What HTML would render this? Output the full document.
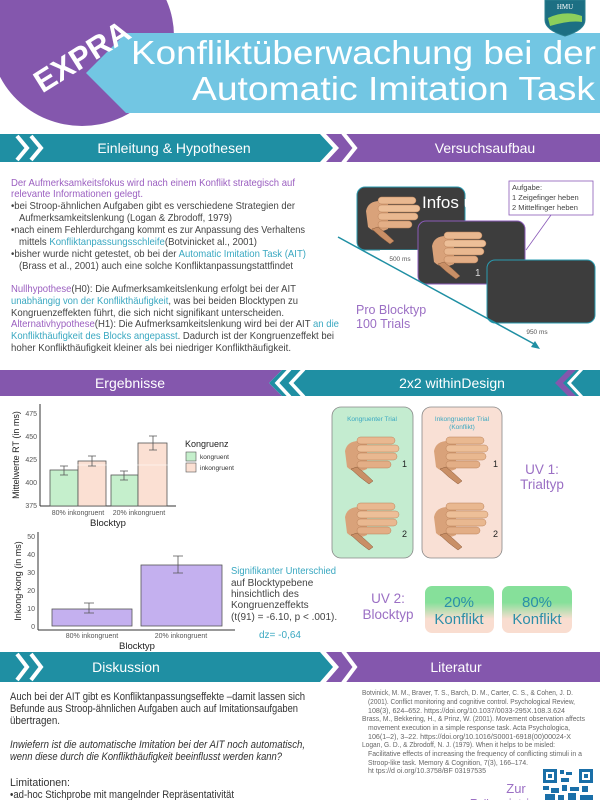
<!DOCTYPE html>
<html><head><meta charset="utf-8"><style>
html,body{margin:0;padding:0;background:#fff;}
svg{display:block;font-family:"Liberation Sans",sans-serif;}
</style></head><body>
<svg width="600" height="800" viewBox="0 0 600 800" xmlns="http://www.w3.org/2000/svg">
<defs>
<g id="hand">
<path d="M2,14 Q4,4 16,4 L24,6 L24,32 Q12,38 4,30 Z" fill="#d9a27a"/>
<rect x="14" y="0" width="38" height="7" rx="3.5" fill="#e9b890" stroke="#b98058" stroke-width="0.5"/>
<rect x="14" y="8" width="42" height="7" rx="3.5" fill="#edbf98" stroke="#b98058" stroke-width="0.5"/>
<rect x="14" y="16" width="40" height="7" rx="3.5" fill="#e9b890" stroke="#b98058" stroke-width="0.5"/>
<rect x="14" y="24" width="34" height="7" rx="3.5" fill="#e3ae86" stroke="#b98058" stroke-width="0.5"/>
<path d="M14,30 Q22,36 30,44 L26,47 Q16,40 8,32 Z" fill="#c98f66" stroke="#8a5a3a" stroke-width="0.5"/>
</g>
<linearGradient id="gp" x1="0" y1="0" x2="0" y2="1">
<stop offset="0.35" stop-color="#86e09a"/><stop offset="0.7" stop-color="#f9ddd0"/></linearGradient>
</defs>

<!-- header -->
<ellipse cx="82" cy="36" rx="92" ry="90" fill="#8457ad"/>
<polygon points="126,33 600,33 600,113 126,113 86,73" fill="#72c6e3"/>
<text x="78" y="68" fill="#fff" font-size="31" font-weight="bold" transform="rotate(-32 78 50)" text-anchor="middle">EXPRA</text>
<text x="131" y="64" fill="#fff" font-size="33" textLength="465" lengthAdjust="spacingAndGlyphs">Konfliktüberwachung bei der</text>
<text x="192" y="100" fill="#fff" font-size="33" textLength="403" lengthAdjust="spacingAndGlyphs">Automatic Imitation Task</text>
<path d="M545,0 L585,0 L585,20 Q585,30 565,36 Q545,30 545,20 Z" fill="#1c6f83" stroke="#2a7f8f" stroke-width="1"/>
<path d="M548,18 Q565,10 582,16 L582,22 Q570,20 550,26 Z" fill="#8ccf5c"/>
<text x="565" y="9" fill="#fff" font-size="7" text-anchor="middle" font-family="Liberation Serif">HMU</text>

<!-- row1 bars -->
<polygon points="0,134 320,134 333,148 320,162 0,162" fill="#1f8fa3"/>
<polyline points="17,136 27,148 17,160" fill="none" stroke="#fff" stroke-width="4"/>
<polyline points="31,136 41,148 31,160" fill="none" stroke="#fff" stroke-width="4"/>
<polygon points="326,134 600,134 600,162 326,162 339,148" fill="#8457ad"/>
<polyline points="343,133 355,148 343,163" fill="none" stroke="#fff" stroke-width="4"/>
<text x="174" y="153" fill="#fff" font-size="14" text-anchor="middle">Einleitung &amp; Hypothesen</text>
<text x="485" y="153" fill="#fff" font-size="14" text-anchor="middle">Versuchsaufbau</text>

<!-- intro text -->
<g font-size="10.5" fill="#444">
<text x="11" y="186" fill="#9b5fc0" textLength="284" lengthAdjust="spacingAndGlyphs">Der Aufmerksamkeitsfokus wird nach einem Konflikt strategisch auf</text>
<text x="11" y="197" fill="#9b5fc0" textLength="132" lengthAdjust="spacingAndGlyphs">relevante Informationen gelegt.</text>
<text x="11" y="209" textLength="284" lengthAdjust="spacingAndGlyphs">•bei Stroop-ähnlichen Aufgaben gibt es verschiedene Strategien der</text>
<text x="19" y="221" textLength="213" lengthAdjust="spacingAndGlyphs">Aufmerksamkeitslenkung (Logan &amp; Zbrodoff, 1979)</text>
<text x="11" y="233" textLength="294" lengthAdjust="spacingAndGlyphs">•nach einem Fehlerdurchgang kommt es zur Anpassung des Verhaltens</text>
<text x="19" y="245" textLength="238" lengthAdjust="spacingAndGlyphs">mittels <tspan fill="#3aa8c1">Konfliktanpassungsschleife</tspan>(Botvinicket al., 2001)</text>
<text x="11" y="257" textLength="295" lengthAdjust="spacingAndGlyphs">•bisher wurde nicht getestet, ob bei der <tspan fill="#3aa8c1">Automatic Imitation Task (AIT)</tspan></text>
<text x="19" y="269" textLength="274" lengthAdjust="spacingAndGlyphs">(Brass et al., 2001) auch eine solche Konfliktanpassungstattfindet</text>
<text x="11" y="292" textLength="285" lengthAdjust="spacingAndGlyphs"><tspan fill="#9b5fc0">Nullhypothese</tspan>(H0): Die Aufmerksamkeitslenkung erfolgt bei der AIT</text>
<text x="11" y="304" textLength="287" lengthAdjust="spacingAndGlyphs"><tspan fill="#3aa8c1">unabhängig von der Konflikthäufigkeit</tspan>, was bei beiden Blocktypen zu</text>
<text x="11" y="316" textLength="273" lengthAdjust="spacingAndGlyphs">Kongruenzeffekten führt, die sich nicht signifikant unterscheiden.</text>
<text x="11" y="327" textLength="328" lengthAdjust="spacingAndGlyphs"><tspan fill="#9b5fc0">Alternativhypothese</tspan>(H1): Die Aufmerksamkeitslenkung wird bei der AIT <tspan fill="#3aa8c1">an die</tspan></text>
<text x="11" y="339" textLength="323" lengthAdjust="spacingAndGlyphs"><tspan fill="#3aa8c1">Konflikthäufigkeit des Blocks angepasst</tspan>. Dadurch ist der Kongruenzeffekt bei</text>
<text x="11" y="351" textLength="280" lengthAdjust="spacingAndGlyphs">hoher Konflikthäufigkeit kleiner als bei niedriger Konflikthäufigkeit.</text>
</g>

<!-- Versuchsaufbau -->
<rect x="357" y="187" width="108" height="63" rx="8" fill="#3d3d3d" stroke="#2a9bb0" stroke-width="1"/>
<use href="#hand" x="364" y="197"/>
<text x="422" y="208" fill="#fff" font-size="17">Infos ü</text>
<rect x="380" y="250" width="40" height="14" fill="#fff"/>
<text x="400" y="261" fill="#555" font-size="6.5" text-anchor="middle">500 ms</text>
<rect x="418" y="221" width="107" height="63" rx="8" fill="#3d3d3d" stroke="#8a5ab8" stroke-width="1"/>
<use href="#hand" x="430" y="232"/>
<text x="475" y="276" fill="#ddd" font-size="10">1</text>
<rect x="487" y="260" width="108" height="63" rx="8" fill="#3d3d3d" stroke="#2a9bb0" stroke-width="1"/>
<text x="537" y="334" fill="#555" font-size="6.5" text-anchor="middle">950 ms</text>
<rect x="509" y="181" width="84" height="34" fill="#fff" stroke="#8a5ab8" stroke-width="0.8"/>
<g font-size="7.5" fill="#444"><text x="512" y="190">Aufgabe:</text><text x="512" y="200">1 Zeigefinger heben</text><text x="512" y="210">2 Mittelfinger heben</text></g>
<line x1="551" y1="215" x2="526" y2="250" stroke="#8a5ab8" stroke-width="0.8"/>
<line x1="338" y1="237" x2="536" y2="345" stroke="#1f8fa3" stroke-width="1.5"/>
<polygon points="540,349 531,347 535,341" fill="#1f8fa3"/>
<g fill="#9b6fc4" font-size="12.5"><text x="356" y="314">Pro Blocktyp</text><text x="356" y="328">100 Trials</text></g>

<!-- row2 bars -->
<polygon points="0,370 282,370 269,383 282,396 0,396" fill="#8457ad"/>
<polygon points="282,370 600,370 600,396 282,396 269,383" fill="#1f8fa3"/>
<polyline points="290,369 277,383 290,397" fill="none" stroke="#fff" stroke-width="3.5"/>
<polyline points="304,369 291,383 304,397" fill="none" stroke="#fff" stroke-width="3.5"/>
<polygon points="568,370 576,370 563,383 576,396 568,396 555,383" fill="#8457ad"/>
<polyline points="582,369 569,383 582,397" fill="none" stroke="#fff" stroke-width="3"/>
<text x="130" y="388" fill="#fff" font-size="14" text-anchor="middle">Ergebnisse</text>
<text x="452" y="388" fill="#fff" font-size="14" text-anchor="middle">2x2 withinDesign</text>

<!-- chart 1 -->
<g font-size="7" fill="#555">
<line x1="40" y1="404" x2="40" y2="506" stroke="#333"/><line x1="40" y1="506" x2="176" y2="506" stroke="#333"/>
<text x="37" y="416" text-anchor="end">475</text><text x="37" y="439" text-anchor="end">450</text><text x="37" y="462" text-anchor="end">425</text><text x="37" y="485" text-anchor="end">400</text><text x="37" y="508" text-anchor="end">375</text>
<rect x="50" y="470" width="28" height="36" fill="#c5efcc" stroke="#555" stroke-width="0.8"/>
<rect x="78" y="461" width="28" height="45" fill="#fbe0d3" stroke="#555" stroke-width="0.8"/>
<rect x="111" y="475" width="27" height="31" fill="#c5efcc" stroke="#555" stroke-width="0.8"/>
<rect x="138" y="443" width="29" height="63" fill="#fbe0d3" stroke="#555" stroke-width="0.8"/>
<line x1="45" y1="465" x2="176" y2="465" stroke="#fff" stroke-width="0.6"/>
<g stroke="#555" stroke-width="0.8" fill="none">
<path d="M60,466 h8 M64,466 v9 M60,475 h8"/><path d="M88,456 h8 M92,456 v10 M88,466 h8"/>
<path d="M120,471 h8 M124,471 v9 M120,480 h8"/><path d="M149,436 h8 M153,436 v14 M149,450 h8"/>
</g>
<text x="78" y="515" text-anchor="middle">80% inkongruent</text><text x="139" y="515" text-anchor="middle">20% inkongruent</text>
<text x="108" y="526" font-size="9.5" fill="#222" text-anchor="middle">Blocktyp</text>
<text x="19" y="455" font-size="9" fill="#222" text-anchor="middle" transform="rotate(-90 19 455)">Mittelwerte RT (in ms)</text>
<text x="185" y="447" font-size="9" fill="#222">Kongruenz</text>
<rect x="186" y="452" width="10" height="9" fill="#c5efcc" stroke="#555" stroke-width="0.6"/>
<rect x="186" y="463" width="10" height="9" fill="#fbe0d3" stroke="#555" stroke-width="0.6"/>
<text x="200" y="459" font-size="6.5" fill="#333">kongruent</text><text x="200" y="470" font-size="6.5" fill="#333">inkongruent</text>
</g>

<!-- chart 2 -->
<g font-size="7" fill="#555">
<line x1="38" y1="532" x2="38" y2="630" stroke="#333"/><line x1="38" y1="630" x2="235" y2="630" stroke="#333"/>
<text x="35" y="539" text-anchor="end">50</text><text x="35" y="557" text-anchor="end">40</text><text x="35" y="575" text-anchor="end">30</text><text x="35" y="593" text-anchor="end">20</text><text x="35" y="611" text-anchor="end">10</text><text x="35" y="629" text-anchor="end">0</text>
<rect x="52" y="609" width="80" height="17" fill="#c4b0ef" stroke="#555" stroke-width="0.8"/>
<rect x="141" y="565" width="81" height="61" fill="#c4b0ef" stroke="#555" stroke-width="0.8"/>
<g stroke="#555" stroke-width="0.8" fill="none"><path d="M84,603 h10 M89,603 v10 M84,613 h10"/><path d="M173,556 h10 M178,556 v17 M173,573 h10"/></g>
<text x="92" y="638" text-anchor="middle">80% inkongruent</text><text x="181" y="638" text-anchor="middle">20% inkongruent</text>
<text x="137" y="649" font-size="9.5" fill="#222" text-anchor="middle">Blocktyp</text>
<text x="21" y="581" font-size="9" fill="#222" text-anchor="middle" transform="rotate(-90 21 581)">Inkong-kong (in ms)</text>
</g>
<g font-size="10" fill="#444">
<text x="231" y="574" fill="#3aa8c1" textLength="105" lengthAdjust="spacingAndGlyphs">Signifikanter Unterschied</text>
<text x="231" y="586">auf Blocktypebene</text>
<text x="231" y="597">hinsichtlich des</text>
<text x="231" y="608">Kongruenzeffekts</text>
<text x="231" y="620">(t(91) = -6.10, p &lt; .001).</text>
<text x="259" y="638" fill="#3aa8c1">dz= -0,64</text>
</g>

<!-- design -->
<rect x="332" y="407" width="81" height="151" rx="9" fill="#c4ecd0" stroke="#888" stroke-width="0.8"/>
<rect x="422" y="407" width="80" height="151" rx="9" fill="#f9e0d5" stroke="#888" stroke-width="0.8"/>
<text x="372" y="421" fill="#3aa8c1" font-size="6.5" text-anchor="middle">Kongruenter Trial</text>
<text x="462" y="421" fill="#3aa8c1" font-size="6.5" text-anchor="middle">Inkongruenter Trial</text>
<text x="462" y="429" fill="#3aa8c1" font-size="6.5" text-anchor="middle">(Konflikt)</text>
<use href="#hand" x="343" y="437"/><use href="#hand" x="343" y="503"/>
<use href="#hand" x="432" y="437"/><use href="#hand" x="432" y="503"/>
<g font-size="9" fill="#222"><text x="402" y="467">1</text><text x="402" y="537">2</text><text x="493" y="467">1</text><text x="493" y="537">2</text></g>
<g fill="#9b6fc4" font-size="13.5" text-anchor="middle"><text x="542" y="474">UV 1:</text><text x="542" y="489">Trialtyp</text>
<text x="388" y="603">UV 2:</text><text x="388" y="619">Blocktyp</text></g>
<rect x="425" y="586" width="69" height="47" rx="7" fill="url(#gp)"/>
<rect x="502" y="586" width="70" height="47" rx="7" fill="url(#gp)"/>
<g fill="#2b8fa8" font-size="15" text-anchor="middle"><text x="459" y="607">20%</text><text x="459" y="624">Konflikt</text><text x="537" y="607">80%</text><text x="537" y="624">Konflikt</text></g>

<!-- row3 bars -->
<polygon points="0,652 320,652 333,667 320,682 0,682" fill="#1f8fa3"/>
<polyline points="17,654 27,667 17,680" fill="none" stroke="#fff" stroke-width="4"/>
<polyline points="31,654 41,667 31,680" fill="none" stroke="#fff" stroke-width="4"/>
<polygon points="326,652 600,652 600,682 326,682 339,667" fill="#8457ad"/>
<polyline points="343,651 355,667 343,683" fill="none" stroke="#fff" stroke-width="4"/>
<text x="126" y="672" fill="#fff" font-size="14" text-anchor="middle">Diskussion</text>
<text x="456" y="672" fill="#fff" font-size="14" text-anchor="middle">Literatur</text>

<!-- discussion -->
<g font-size="11" fill="#333">
<text x="10" y="700" textLength="295" lengthAdjust="spacingAndGlyphs">Auch bei der AIT gibt es Konfliktanpassungseffekte –damit lassen sich</text>
<text x="10" y="712" textLength="288" lengthAdjust="spacingAndGlyphs">Befunde aus Stroop-ähnlichen Aufgaben auch auf Imitationsaufgaben</text>
<text x="10" y="724" textLength="50" lengthAdjust="spacingAndGlyphs">übertragen.</text>
<text x="10" y="748" font-style="italic" textLength="295" lengthAdjust="spacingAndGlyphs">Inwiefern ist die automatische Imitation bei der AIT noch automatisch,</text>
<text x="10" y="760" font-style="italic" textLength="272" lengthAdjust="spacingAndGlyphs">wenn diese durch die Konflikthäufigkeit beeinflusst werden kann?</text>
<text x="10" y="786" textLength="60" lengthAdjust="spacingAndGlyphs">Limitationen:</text>
<text x="10" y="798" textLength="224" lengthAdjust="spacingAndGlyphs">•ad-hoc Stichprobe mit mangelnder Repräsentativität</text>
</g>

<!-- literature -->
<g font-size="7.3" fill="#666">
<text x="362" y="695" textLength="211" lengthAdjust="spacingAndGlyphs">Botvinick, M. M., Braver, T. S., Barch, D. M., Carter, C. S., &amp; Cohen, J. D.</text>
<text x="368" y="704" textLength="207" lengthAdjust="spacingAndGlyphs">(2001). Conflict monitoring and cognitive control. Psychological Review,</text>
<text x="368" y="713" textLength="197" lengthAdjust="spacingAndGlyphs">108(3), 624–652. https://doi.org/10.1037/0033-295X.108.3.624</text>
<text x="362" y="721" textLength="223" lengthAdjust="spacingAndGlyphs">Brass, M., Bekkering, H., &amp; Prinz, W. (2001). Movement observation affects</text>
<text x="368" y="730" textLength="202" lengthAdjust="spacingAndGlyphs">movement execution in a simple response task. Acta Psychologica,</text>
<text x="368" y="739" textLength="203" lengthAdjust="spacingAndGlyphs">106(1–2), 3–22. https://doi.org/10.1016/S0001-6918(00)00024-X</text>
<text x="362" y="747" textLength="193" lengthAdjust="spacingAndGlyphs">Logan, G. D., &amp; Zbrodoff, N. J. (1979). When it helps to be misled:</text>
<text x="368" y="756" textLength="214" lengthAdjust="spacingAndGlyphs">Facilitative effects of increasing the frequency of conflicting stimuli in a</text>
<text x="368" y="765" textLength="160" lengthAdjust="spacingAndGlyphs">Stroop-like task. Memory &amp; Cognition, 7(3), 166–174.</text>
<text x="368" y="773" textLength="118" lengthAdjust="spacingAndGlyphs">ht tps://d oi.org/10.3758/BF 03197535</text>
</g>
<text x="516" y="793" fill="#9b6fc4" font-size="13" text-anchor="middle">Zur</text>
<text x="516" y="808" fill="#9b6fc4" font-size="13" text-anchor="middle">Präregistrierung</text>
<g fill="#1a6fa8">
<rect x="543" y="769" width="50" height="31" fill="#fff"/>
<rect x="543" y="769" width="14" height="14"/><rect x="546" y="772" width="8" height="8" fill="#fff"/><rect x="548" y="774" width="4" height="4"/>
<rect x="579" y="769" width="14" height="14"/><rect x="582" y="772" width="8" height="8" fill="#fff"/><rect x="584" y="774" width="4" height="4"/>
<rect x="560" y="770" width="4" height="4"/><rect x="566" y="772" width="6" height="3"/><rect x="561" y="778" width="8" height="4"/>
<rect x="543" y="786" width="6" height="4"/><rect x="551" y="788" width="8" height="5"/><rect x="562" y="785" width="5" height="6"/><rect x="570" y="787" width="9" height="4"/><rect x="582" y="786" width="6" height="6"/>
<rect x="545" y="794" width="10" height="6"/><rect x="558" y="795" width="6" height="5"/><rect x="568" y="793" width="8" height="7"/><rect x="580" y="795" width="13" height="5"/>
</g>
</svg>
</body></html>
